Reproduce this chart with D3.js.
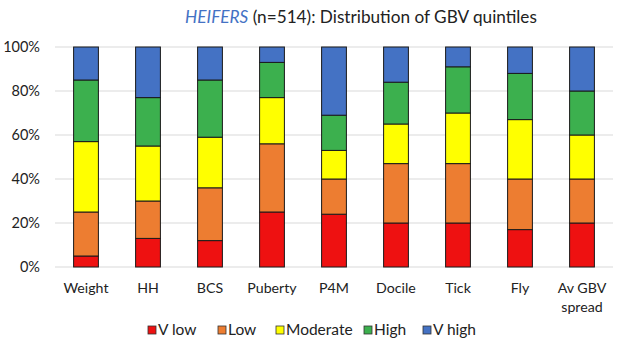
<!DOCTYPE html>
<html>
<head>
<meta charset="utf-8">
<script src="https://cdn.jsdelivr.net/npm/d3@7"></script>
<style>
  body { margin: 0; background: #fff; }
  svg { display: block; font-family: Lato, "Open Sans", sans-serif; }
</style>
</head>
<body>
<svg width="628" height="361"></svg>
<script>
const svg = d3.select('svg')

const categories = ['Weight', 'HH', 'BCS', 'Puberty', 'P4M', 'Docile', 'Tick', 'Fly', 'Av GBV spread']
const quintiles = ['V low', 'Low', 'Moderate', 'High', 'V high']
const vLow     = [5, 13, 12, 25, 24, 20, 20, 17, 20]
const low      = [20, 17, 24, 31, 16, 27, 27, 23, 20]
const moderate = [32, 25, 23, 21, 13, 18, 23, 27, 20]
const high     = [28, 22, 26, 16, 16, 19, 21, 21, 20]
const vHigh    = [15, 23, 15, 7, 31, 16, 9, 12, 20]
const yTicks = [0, 20, 40, 60, 80, 100]

const colors = ['#EE1111', '#ED7D31', '#FFFF00', '#3CB04E', '#4472C4']

const table = categories.map((c, i) => ({
    cat: c,
    'V low': vLow[i], 'Low': low[i], 'Moderate': moderate[i], 'High': high[i], 'V high': vHigh[i]
}))
const stacked = d3.stack().keys(quintiles)(table)

const x = d3.scaleBand()
    .domain(categories)
    .range([55, 613])
    .paddingInner(0.6)
    .paddingOuter(0.3)

const y = d3.scaleLinear()
    .domain([0, 100])
    .range([267, 47])

const color = d3.scaleOrdinal().domain(quintiles).range(colors)

// title
const title = svg.append('text')
    .attr('x', 361)
    .attr('y', 23)
    .attr('text-anchor', 'middle')
    .attr('font-size', 17.2)
    .attr('fill', '#222')
title.append('tspan').attr('fill', '#4472C4').attr('font-style', 'italic').text('HEIFERS')
title.append('tspan').text(' (n=514): Distribution of GBV quintiles')

// grid + y axis labels
svg.append('g')
    .selectAll('line')
    .data(yTicks)
    .join('line')
        .attr('x1', 55).attr('x2', 613)
        .attr('y1', d => y(d)).attr('y2', d => y(d))
        .attr('stroke', '#d9d9d9')
        .attr('stroke-width', 1)

svg.append('g')
    .selectAll('text')
    .data(yTicks)
    .join('text')
        .attr('x', 40)
        .attr('y', d => y(d))
        .attr('dy', '0.35em')
        .attr('text-anchor', 'end')
        .attr('font-size', 14.5)
        .attr('fill', '#222')
        .text(d => d + '%')

// bars
svg.append('g')
    .selectAll('g')
    .data(stacked)
    .join('g')
        .attr('fill', d => color(d.key))
    .selectAll('rect')
    .data(d => d)
    .join('rect')
        .attr('x', d => x(d.data.cat))
        .attr('width', x.bandwidth())
        .attr('y', d => y(d[1]))
        .attr('height', d => y(d[0]) - y(d[1]))
        .attr('stroke', '#1a1a1a')
        .attr('stroke-width', 1)

// x labels
const xl = svg.append('g')
    .selectAll('text')
    .data(categories)
    .join('text')
        .attr('x', d => x(d) + x.bandwidth() / 2)
        .attr('y', 293)
        .attr('text-anchor', 'middle')
        .attr('font-size', 14.2)
        .attr('fill', '#222')
xl.each(function (d) {
    const words = d === 'Av GBV spread' ? ['Av GBV', 'spread'] : [d]
    d3.select(this).selectAll('tspan')
        .data(words)
        .join('tspan')
            .attr('x', x(d) + x.bandwidth() / 2)
            .attr('dy', (w, i) => i === 0 ? 0 : 19)
            .text(w => w)
})

// legend
const legendX = [148, 218, 276, 364, 423]
const legend = svg.append('g')
    .selectAll('g')
    .data(quintiles)
    .join('g')
        .attr('transform', (d, i) => `translate(${legendX[i]}, 330)`)
legend.append('rect')
    .attr('x', 0).attr('y', -4)
    .attr('width', 8).attr('height', 8)
    .attr('fill', d => color(d))
    .attr('stroke', '#333')
    .attr('stroke-width', 0.8)
legend.append('text')
    .attr('x', 10)
    .attr('dy', '0.35em')
    .attr('font-size', 15.5)
    .attr('fill', '#222')
    .text(d => d)
</script>
</body>
</html>
